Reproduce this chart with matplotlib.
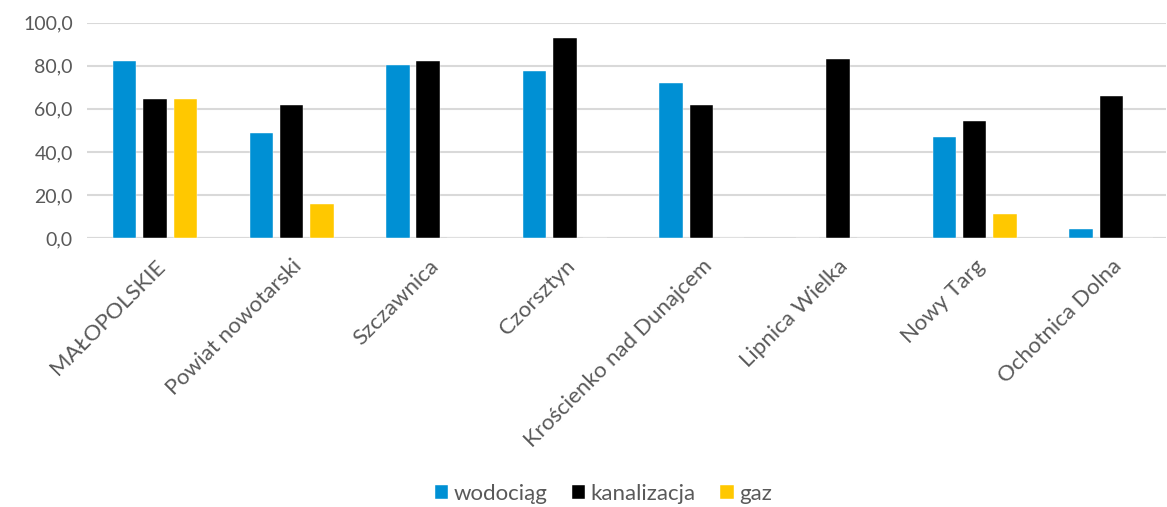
import matplotlib
matplotlib.use("Agg")
import matplotlib.pyplot as plt
import numpy as np
from matplotlib.ticker import FuncFormatter

# data
categories = ["MAŁOPOLSKIE", "Powiat nowotarski", "Szczawnica", "Czorsztyn",
              "Krościenko nad Dunajcem", "Lipnica Wielka", "Nowy Targ", "Ochotnica Dolna"]
wodociag = [82.0, 49.0, 80.5, 77.6, 71.8, 0.0, 47.1, 4.3]
kanalizacja = [64.5, 61.6, 82.4, 92.8, 61.7, 83.0, 54.3, 66.1]
gaz = [64.7, 15.9, 0.0, 0.0, 0.0, 0.0, 11.3, 0.0]

series = [("wodociąg", wodociag, "#0090d4"),
          ("kanalizacja", kanalizacja, "#000000"),
          ("gaz", gaz, "#ffc800")]

plt.rcParams["font.family"] = ["Lato", "DejaVu Sans"]
text_color = "#595959"

fig = plt.figure(figsize=(11.67, 5.07), dpi=100)
ax = fig.add_axes([0.0743, 0.5306, 0.9248, 0.4246])

x = np.arange(len(categories))
width = 0.172
step = 0.222
for i, (name, vals, color) in enumerate(series):
    ax.bar(x + (i - 1) * step, vals, width, color=color, label=name,
           edgecolor="white", linewidth=0.3, zorder=3)

ax.set_xlim(-0.5, 7.4)
ax.set_ylim(0, 100)
ax.set_yticks(np.arange(0, 101, 20))
ax.yaxis.set_major_formatter(FuncFormatter(lambda v, p: f"{v:.1f}".replace(".", ",")))
ax.grid(axis="y", color="#d9d9d9", linewidth=1.5, zorder=0)
ax.set_axisbelow(True)
for s in ["top", "right", "left", "bottom"]:
    ax.spines[s].set_visible(False)
ax.axhline(0, color="#d9d9d9", linewidth=1.5, zorder=2)

ax.set_xticks(x)
ax.set_xticklabels(categories, rotation=45, ha="right", va="top",
                   rotation_mode="anchor", fontsize=16, color=text_color)
ax.tick_params(axis="both", length=0)
ax.tick_params(axis="x", pad=13)
ax.tick_params(axis="y", pad=10, labelsize=14, labelcolor=text_color)

fig.legend(loc="center", bbox_to_anchor=(0.517, 0.026), ncol=3, frameon=False,
           fontsize=16, labelcolor=text_color, handlelength=0.6, handleheight=0.6,
           handletextpad=0.25, columnspacing=1.1)

fig.savefig("out.png", dpi=100)
